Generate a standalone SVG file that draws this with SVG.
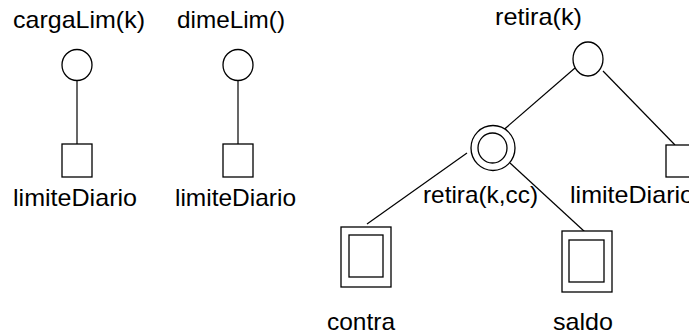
<svg xmlns="http://www.w3.org/2000/svg" width="689" height="335" viewBox="0 0 689 335">
<style>
.s{fill:#fff;stroke:#000;stroke-width:1.3}
.c line{stroke:#000;stroke-width:1.2}
text{font-family:"Liberation Sans",Arial,sans-serif;font-size:24px;fill:#000}
</style>
<rect width="689" height="335" fill="#fff"/>
<g class="c" id="connectors">
<line x1="77" y1="80.5" x2="77" y2="144"/>
<line x1="238" y1="80.5" x2="238" y2="144"/>
<line x1="575" y1="68" x2="500" y2="133"/>
<line x1="603" y1="71" x2="675" y2="145"/>
<line x1="467" y1="153" x2="367" y2="224"/>
<line x1="510" y1="163" x2="585" y2="232"/>
</g>
<g id="cargaLim">
<text x="13" y="28" textLength="132" lengthAdjust="spacingAndGlyphs">cargaLim(k)</text>
<ellipse class="s" cx="77" cy="65" rx="15" ry="15.5"/>
</g>
<g id="limite1">
<rect class="s" x="62" y="144" width="30" height="33"/>
<text x="13" y="206" textLength="124" lengthAdjust="spacingAndGlyphs">limiteDiario</text>
</g>
<g id="dimeLim">
<text x="177" y="28" textLength="108" lengthAdjust="spacingAndGlyphs">dimeLim()</text>
<ellipse class="s" cx="238" cy="65" rx="15" ry="15.5"/>
</g>
<g id="limite2">
<rect class="s" x="223" y="144" width="30" height="33"/>
<text x="175" y="206" textLength="121" lengthAdjust="spacingAndGlyphs">limiteDiario</text>
</g>
<g id="retira">
<text x="495" y="25" textLength="87" lengthAdjust="spacingAndGlyphs">retira(k)</text>
<ellipse class="s" cx="588" cy="59" rx="15" ry="17"/>
</g>
<g id="retirakcc">
<ellipse class="s" cx="493" cy="148" rx="22" ry="22.5"/>
<ellipse class="s" cx="492.5" cy="148" rx="14.5" ry="15"/>
<text x="423" y="203" textLength="115" lengthAdjust="spacingAndGlyphs">retira(k,cc)</text>
</g>
<g id="limite3">
<rect class="s" x="666" y="145" width="30" height="32"/>
<text x="570" y="203" textLength="124" lengthAdjust="spacingAndGlyphs">limiteDiario</text>
</g>
<g id="contra">
<rect class="s" x="341" y="227" width="50" height="60"/>
<rect class="s" x="349" y="235" width="34" height="42"/>
<text x="327" y="330" textLength="68" lengthAdjust="spacingAndGlyphs">contra</text>
</g>
<g id="saldo">
<rect class="s" x="562" y="231" width="50" height="61"/>
<rect class="s" x="569" y="240" width="35" height="42"/>
<text x="553" y="330" textLength="60" lengthAdjust="spacingAndGlyphs">saldo</text>
</g>
</svg>
